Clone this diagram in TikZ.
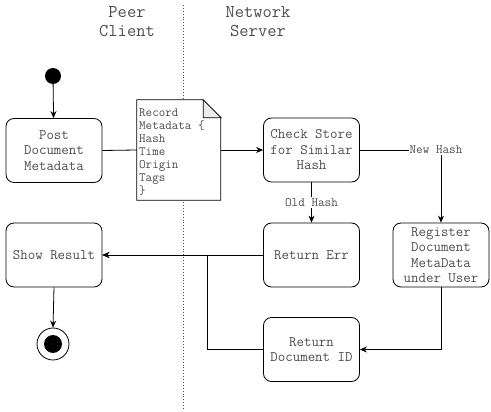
\documentclass[tikz,border=0pt]{standalone}
\usepackage{fontspec}
\usetikzlibrary{arrows.meta}

\definecolor{inkgray}{RGB}{77,77,77}
\definecolor{foldgray}{RGB}{235,235,235}

\begin{document}
\begin{tikzpicture}[x=1pt,y=1pt,yscale=-1,xscale=1,
  every node/.style={font=\ttfamily\fontsize{14.5}{15.5}\selectfont, text=inkgray},
  actbox/.style={draw, line width=0.8pt, rounded corners=8pt, minimum width=96pt, minimum height=64pt, align=center, inner sep=1pt},
  lbl/.style={fill=white, inner sep=1pt, font=\ttfamily\fontsize{12.8}{13}\selectfont},
  flow/.style={line width=0.8pt, -{Stealth[length=7pt,width=6pt]}},
  plain/.style={line width=0.8pt}]
\useasboundingbox (0,0) rectangle (491,412);

% Swimlane titles
\node (peer) at (127,22) [font=\ttfamily\fontsize{18}{19}\selectfont, align=center] {Peer\\Client};
\node (net) at (258,22) [font=\ttfamily\fontsize{18}{19}\selectfont, align=center] {Network\\Server};
%Dotted lane divider
\draw [dotted, line width=0.9pt, color=inkgray] (183,5) -- (183,410) ;

%Start and end
\node (start) at (53,76) [circle, fill=black, minimum size=16pt, inner sep=0pt] {};
\node (end) at (53,344) [circle, draw, line width=0.8pt, minimum size=32pt, inner sep=0pt] {};
\fill (end) circle (9) ;

% Activity boxes
\node (post) at (54,150.5) [actbox] {Post\\Document\\Metadata};
\node (check) at (311.5,150) [actbox] {Check Store\\for Similar\\Hash};
\node (err) at (311.5,255) [actbox] {Return Err};
\node (reg) at (441,255) [actbox] {Register\\Document\\MetaData\\under User};
\node (docid) at (311.5,349.5) [actbox] {Return\\Document ID};
\node (show) at (54,255) [actbox] {Show Result};

%Shape: Document
\node (rec) at (179,150) [minimum width=84pt, minimum height=100pt, inner sep=0pt] {};
\draw [plain, fill=white] (rec.north west) -- ++(66,0) -- ++(18,18) |- (rec.south west) -- cycle ;
\draw [plain, fill=foldgray] ([xshift=-18pt]rec.north east) -- ++(0,18) -- ++(18,0) -- cycle ;
\node (rectext) at (139,109) [anchor=north west, align=left, inner sep=0pt, font=\ttfamily\fontsize{12.7}{13}\selectfont]
  {Record\\Metadata \{\\Hash\\Time\\Origin\\Tags\\\}};

% Connectors
\coordinate (jn) at (207,255);
\draw [flow] (start) -- (post) ;
\draw [plain] (post.east) -- (rec.west) ;
\draw [flow] (rec.east) -- (check.west) ;
\draw [flow] (check.east) -| (reg.north) ;
\node (newh) at (436,150) [lbl] {New Hash};
\draw [flow] (check.south) -- node [lbl] (oldh) {Old Hash} (err.north) ;
\draw [flow] (err.west) -- (show.east) ;
\draw [flow] (reg.south) |- (docid.east) ;
\draw [flow] (docid.west) -| (jn) -- (show.east) ;
\draw [flow] (show.south) -- (end.north) ;

\end{tikzpicture}
\end{document}
